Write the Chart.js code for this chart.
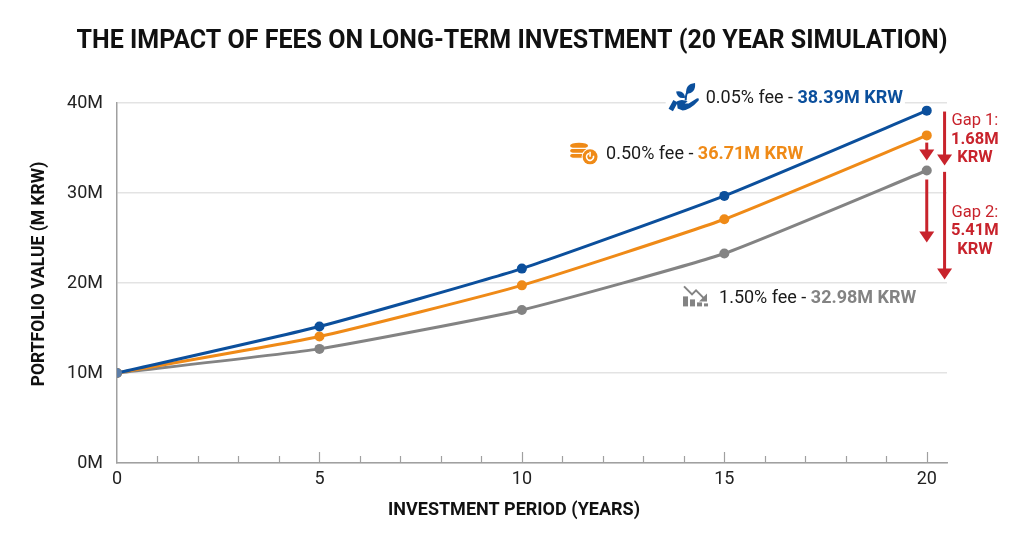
<!DOCTYPE html>
<html>
<head>
<meta charset="utf-8">
<title>Impact of fees</title>
<script src="https://cdn.jsdelivr.net/npm/chart.js@4.4.1/dist/chart.umd.min.js"></script>
<style>
  html, body { margin: 0; padding: 0; background: #fff; }
</style>
</head>
<body>
<canvas id="feeChart" width="1024" height="541"></canvas>
<script>
// values (M KRW)
const years = [0, 5, 10, 15, 20];
const fee005 = [10, 15.17, 21.6, 29.68, 39.15];
const fee050 = [10, 14.05, 19.74, 27.08, 36.4];
const fee150 = [10, 12.68, 17.0, 23.28, 32.5];
const xTickValues = [0, 5, 10, 15, 20];
const yTickValues = [0, 10, 20, 30, 40];
const feeNames = ['0.05% fee', '0.50% fee', '1.50% fee'];
const finalLabels = ['38.39M KRW', '36.71M KRW', '32.98M KRW'];
const gapNames = ['Gap 1:', 'Gap 2:'];
const gapValues = ['1.68M', '5.41M'];

const BLUE = '#0b4f9c';
const ORANGE = '#ef8a17';
const GRAY = '#838383';
const RED = '#c8232c';
const FONT = 'Roboto, "Noto Sans", sans-serif';

document.addEventListener('DOMContentLoaded', () => {
    const ctx = document.getElementById('feeChart').getContext('2d');

    const toPoints = (vals) => years.map((yr, i) => ({ x: yr, y: vals[i] }));

    function arrowDown(c, x, y1, y2) {
        const headH = 11, headW = 7.5;
        c.strokeStyle = RED;
        c.fillStyle = RED;
        c.lineWidth = 3;
        c.beginPath();
        c.moveTo(x, y1);
        c.lineTo(x, y2 - headH + 1);
        c.stroke();
        c.beginPath();
        c.moveTo(x - headW, y2 - headH);
        c.lineTo(x + headW, y2 - headH);
        c.lineTo(x, y2);
        c.closePath();
        c.fill();
    }

    function leaf(c, cx, cy, rx, ry, angle) {
        c.save();
        c.translate(cx, cy);
        c.rotate(angle);
        c.beginPath();
        c.moveTo(-rx, 0);
        c.quadraticCurveTo(0, -ry * 2, rx, 0);
        c.quadraticCurveTo(0, ry * 2, -rx, 0);
        c.fill();
        c.restore();
    }

    function iconPlant(c, x, cy) {
        c.fillStyle = BLUE;
        c.strokeStyle = BLUE;
        // sprout
        c.lineWidth = 2;
        c.beginPath();
        c.moveTo(x + 16, cy + 3);
        c.quadraticCurveTo(x + 16, cy - 4, x + 19, cy - 8);
        c.stroke();
        leaf(c, x + 11, cy - 3, 5.5, 3, 0.6);
        leaf(c, x + 21, cy - 9, 7, 3.6, -0.9);
        // hand
        c.beginPath();
        c.moveTo(x + 7, cy + 4);
        c.quadraticCurveTo(x + 12, cy + 1, x + 18, cy + 4);
        c.lineTo(x + 15, cy + 6);
        c.lineTo(x + 19, cy + 6);
        c.lineTo(x + 27, cy + 1);
        c.quadraticCurveTo(x + 30, cy + 0, x + 29, cy + 3);
        c.quadraticCurveTo(x + 21, cy + 12, x + 13, cy + 13);
        c.lineTo(x + 8, cy + 11);
        c.closePath();
        c.fill();
        c.save();
        c.translate(x + 3.5, cy + 8);
        c.rotate(0.5);
        c.fillRect(-2.5, -5, 5, 10);
        c.restore();
    }

    function iconCoins(c, x, cy) {
        c.fillStyle = ORANGE;
        for (let i = 0; i < 3; i++) {
            const yy = cy - 8 + i * 5;
            c.beginPath();
            c.ellipse(x + 9, yy, 9, 3.2, 0, 0, Math.PI * 2);
            c.fill();
        }
        c.strokeStyle = '#fff';
        c.lineWidth = 1.2;
        for (let i = 0; i < 3; i++) {
            c.beginPath();
            c.moveTo(x + 1, cy - 8 + i * 5 + 2.5);
            c.lineTo(x + 17, cy - 8 + i * 5 + 2.5);
            c.stroke();
        }
        c.beginPath();
        c.arc(x + 20, cy + 3, 8.5, 0, Math.PI * 2);
        c.fillStyle = '#fff';
        c.fill();
        c.beginPath();
        c.arc(x + 20, cy + 3, 7.5, 0, Math.PI * 2);
        c.fillStyle = ORANGE;
        c.fill();
        c.strokeStyle = '#fff';
        c.lineWidth = 1.6;
        c.beginPath();
        c.arc(x + 20, cy + 3, 3.5, -0.3, Math.PI * 1.4);
        c.stroke();
        c.beginPath();
        c.moveTo(x + 20, cy - 2);
        c.lineTo(x + 20, cy + 3);
        c.stroke();
    }

    function iconDecline(c, x, cy) {
        c.fillStyle = GRAY;
        c.fillRect(x, cy - 1, 5, 10);
        c.fillRect(x + 7, cy + 2, 5, 7);
        c.fillRect(x + 14, cy + 5, 5, 4);
        c.fillRect(x + 21, cy + 6, 4, 3);
        c.strokeStyle = GRAY;
        c.lineWidth = 2;
        c.beginPath();
        c.moveTo(x + 1, cy - 11);
        c.lineTo(x + 9, cy - 3);
        c.lineTo(x + 13, cy - 7);
        c.lineTo(x + 21, cy + 1);
        c.stroke();
        c.beginPath();
        c.moveTo(x + 24, cy + 4);
        c.lineTo(x + 24, cy - 4);
        c.lineTo(x + 16, cy + 4);
        c.closePath();
        c.fill();
    }

    // label anchors in data units: x of icon left, y centre
    const labelSpots = [
        { x: 13.65, y: 40.6, color: BLUE, icon: iconPlant, backdrop: true },
        { x: 11.19, y: 34.35, color: ORANGE, icon: iconCoins, backdrop: false },
        { x: 13.98, y: 18.4, color: GRAY, icon: iconDecline, backdrop: false }
    ];

    const decorations = {
        id: 'decorations',
        beforeDatasetsDraw(chart) {
            const c = chart.ctx;
            const xs = chart.scales.x;
            const area = chart.chartArea;
            c.save();
            c.strokeStyle = '#a0a0a0';
            c.lineWidth = 1.2;
            for (let yr = 1; yr <= 20; yr++) {
                const px = Math.round(xs.getPixelForValue(yr)) + 0.5;
                const len = yr % 5 === 0 ? 11 : 7;
                c.beginPath();
                c.moveTo(px, area.bottom);
                c.lineTo(px, area.bottom - len);
                c.stroke();
            }
            c.restore();
        },
        afterDraw(chart) {
            const c = chart.ctx;
            const xs = chart.scales.x;
            const ys = chart.scales.y;
            c.save();

            // titles
            c.fillStyle = '#111';
            c.textAlign = 'center';
            c.textBaseline = 'middle';
            c.font = 'bold 25px ' + FONT;
            c.fillText('THE IMPACT OF FEES ON LONG-TERM INVESTMENT (20 YEAR SIMULATION)', 512, 42);
            c.font = 'bold 18px ' + FONT;
            c.fillText('INVESTMENT PERIOD (YEARS)', 514, 510);
            c.save();
            c.translate(40, 274);
            c.rotate(-Math.PI / 2);
            c.font = 'bold 17.5px ' + FONT;
            c.fillText('PORTFOLIO VALUE (M KRW)', 0, 0);
            c.restore();

            // series end labels
            const labelSize = 18;
            labelSpots.forEach((spot, i) => {
                const px = xs.getPixelForValue(spot.x);
                const py = ys.getPixelForValue(spot.y);
                c.font = labelSize + 'px ' + FONT;
                const plain = feeNames[i] + ' - ';
                const w1 = c.measureText(plain).width;
                c.font = 'bold ' + labelSize + 'px ' + FONT;
                const w2 = c.measureText(finalLabels[i]).width;
                const textX = px + 36;
                if (spot.backdrop) {
                    c.fillStyle = '#fff';
                    c.fillRect(px - 4, py - 13, 36 + w1 + w2 + 6, 26);
                }
                spot.icon(c, px, py);
                c.textAlign = 'left';
                c.textBaseline = 'middle';
                c.font = labelSize + 'px ' + FONT;
                c.fillStyle = '#1a1a1a';
                c.fillText(plain, textX, py + 1);
                c.font = 'bold ' + labelSize + 'px ' + FONT;
                c.fillStyle = spot.color;
                c.fillText(finalLabels[i], textX + w1, py + 1);
            });

            // gap arrows
            const colA = xs.getPixelForValue(20);
            const colB = xs.getPixelForValue(20.44);
            arrowDown(c, colA, ys.getPixelForValue(35.6), ys.getPixelForValue(33.6));
            arrowDown(c, colA, ys.getPixelForValue(31.5), ys.getPixelForValue(24.5));
            arrowDown(c, colB, ys.getPixelForValue(39.05), ys.getPixelForValue(33.05));
            arrowDown(c, colB, ys.getPixelForValue(32.35), ys.getPixelForValue(20.4));

            // gap text
            const gx = xs.getPixelForValue(21.19);
            const gapTops = [38.0, 27.8];
            c.textAlign = 'center';
            c.textBaseline = 'middle';
            c.fillStyle = RED;
            gapNames.forEach((name, i) => {
                const top = ys.getPixelForValue(gapTops[i]);
                c.font = '16.5px ' + FONT;
                c.fillText(name, gx, top);
                c.font = 'bold 16.5px ' + FONT;
                c.fillText(gapValues[i], gx, top + 18.5);
                c.fillText('KRW', gx, top + 37);
            });
            c.restore();
        }
    };

    const lineStyle = (color) => ({
        borderColor: color,
        backgroundColor: color,
        borderWidth: 3,
        pointRadius: 5,
        pointHoverRadius: 5,
        pointBorderWidth: 0,
        tension: 0.15,
        fill: false
    });

    new Chart(ctx, {
        type: 'line',
        data: {
            datasets: [
                Object.assign({
                    label: feeNames[0],
                    data: toPoints(fee005),
                    pointBackgroundColor: (c) => c.dataIndex === 0 ? '#5d7ea8' : BLUE
                }, lineStyle(BLUE)),
                Object.assign({ label: feeNames[1], data: toPoints(fee050) }, lineStyle(ORANGE)),
                Object.assign({ label: feeNames[2], data: toPoints(fee150) }, lineStyle(GRAY))
            ]
        },
        options: {
            responsive: false,
            animation: false,
            layout: { padding: { top: 103, right: 77, left: 0, bottom: 0 } },
            plugins: {
                legend: { display: false },
                tooltip: { enabled: false },
                title: { display: false }
            },
            scales: {
                x: {
                    type: 'linear',
                    min: 0,
                    max: 20.5,
                    afterBuildTicks: (s) => { s.ticks = xTickValues.map(v => ({ value: v })); },
                    afterFit: (s) => { s.height = 78; },
                    ticks: {
                        color: '#222',
                        font: { family: FONT, size: 18 },
                        padding: 6,
                        maxRotation: 0
                    },
                    grid: { display: false, drawTicks: false },
                    border: { display: true, color: '#a0a0a0', width: 1.5 }
                },
                y: {
                    min: 0,
                    max: 40,
                    afterBuildTicks: (s) => { s.ticks = yTickValues.map(v => ({ value: v })); },
                    afterFit: (s) => { s.width = 117; },
                    ticks: {
                        color: '#222',
                        font: { family: FONT, size: 18 },
                        padding: 14,
                        callback: (v) => v + 'M'
                    },
                    grid: { color: '#e3e3e3', lineWidth: 1.5, drawTicks: false },
                    border: { display: true, color: '#a0a0a0', width: 1.5 }
                }
            }
        },
        plugins: [decorations]
    });
});
</script>
</body>
</html>
